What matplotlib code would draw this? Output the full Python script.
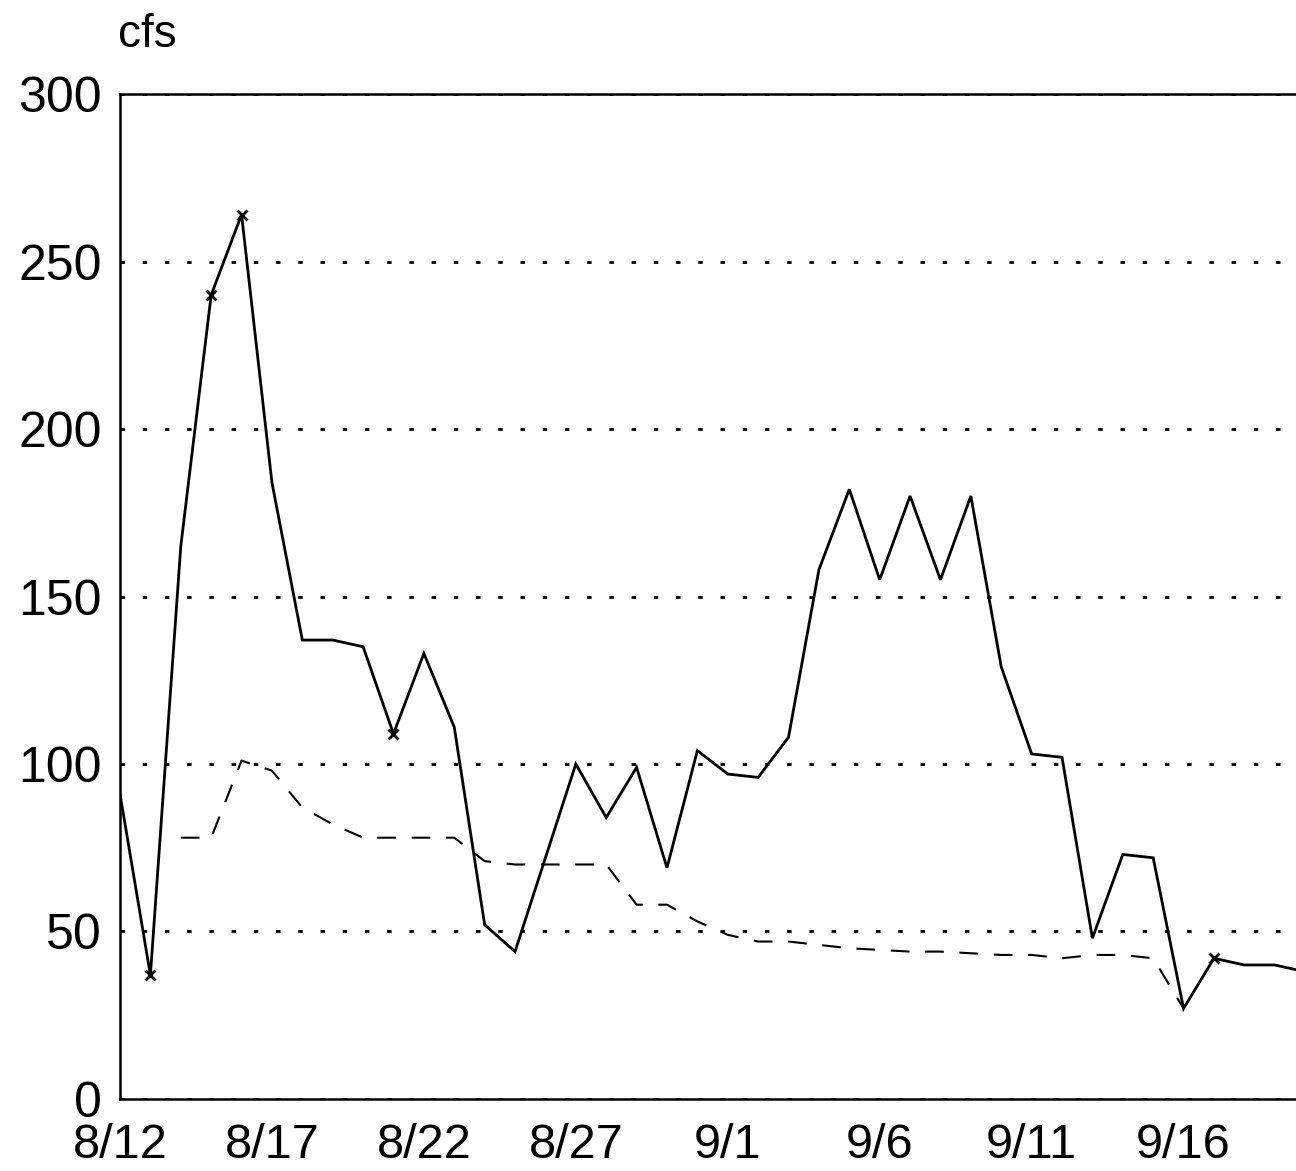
import matplotlib.pyplot as plt
import numpy as np

plt.rcParams["font.family"] = ["Liberation Sans", "DejaVu Sans"]

# day index 0 = 8/12
days = np.arange(40)
flow = [91, 37, 165, 240, 264, 184, 137, 137, 135, 109,
        133, 111, 52, 44, 72, 100, 84, 99, 69, 104,
        97, 96, 108, 158, 182, 155, 180, 155, 180, 129,
        103, 102, 48, 73, 72, 27, 42, 40, 40, 38]

avg_days = np.arange(2, 36)
avg_flow = [78, 78, 101, 98, 87, 82, 78, 78, 78, 78,
            71, 70, 70, 70, 70, 58, 58, 53, 49, 47,
            47, 46, 45, 44.5, 44, 44, 43.5, 43, 43, 42,
            43, 43, 42, 27]

marked_days = [1, 3, 4, 9, 36]

tick_days = [0, 5, 10, 15, 20, 25, 30, 35]
tick_labels = ["8/12", "8/17", "8/22", "8/27", "9/1", "9/6", "9/11", "9/16"]
y_ticks = [0, 50, 100, 150, 200, 250, 300]

fig = plt.figure(figsize=(12.96, 11.71), dpi=100)
ax = fig.add_axes([0.0926, 0.0615, 0.9074, 0.8582])

ax.plot(days, flow, color="black", linewidth=2, solid_joinstyle="miter")
ax.plot(avg_days, avg_flow, color="black", linewidth=1.5, linestyle=(0, (9, 7.5)))
ax.plot(marked_days, [flow[d] for d in marked_days], linestyle="none",
        marker="x", color="black", markersize=7, markeredgewidth=2)

ax.set_xlim(0, 38.7)
ax.set_ylim(0, 300)
ax.set_xticks(tick_days)
ax.set_xticklabels(tick_labels, fontsize=35)
ax.set_yticks(y_ticks)
ax.tick_params(length=0, labelsize=36)
ax.tick_params(axis="x", labelsize=35, pad=17.5)
ax.tick_params(axis="y", pad=13)

ax.grid(axis="y", color="black", linewidth=2, linestyle=(0, (1.6, 6.4)))
ax.set_axisbelow(True)

ax.spines["right"].set_visible(False)
for side in ["left", "top", "bottom"]:
    ax.spines[side].set_linewidth(1.8)

fig.text(118 / 1296, 1 - 47 / 1171, "cfs", fontsize=33, ha="left", va="baseline")

fig.savefig("out.png", dpi=100)
